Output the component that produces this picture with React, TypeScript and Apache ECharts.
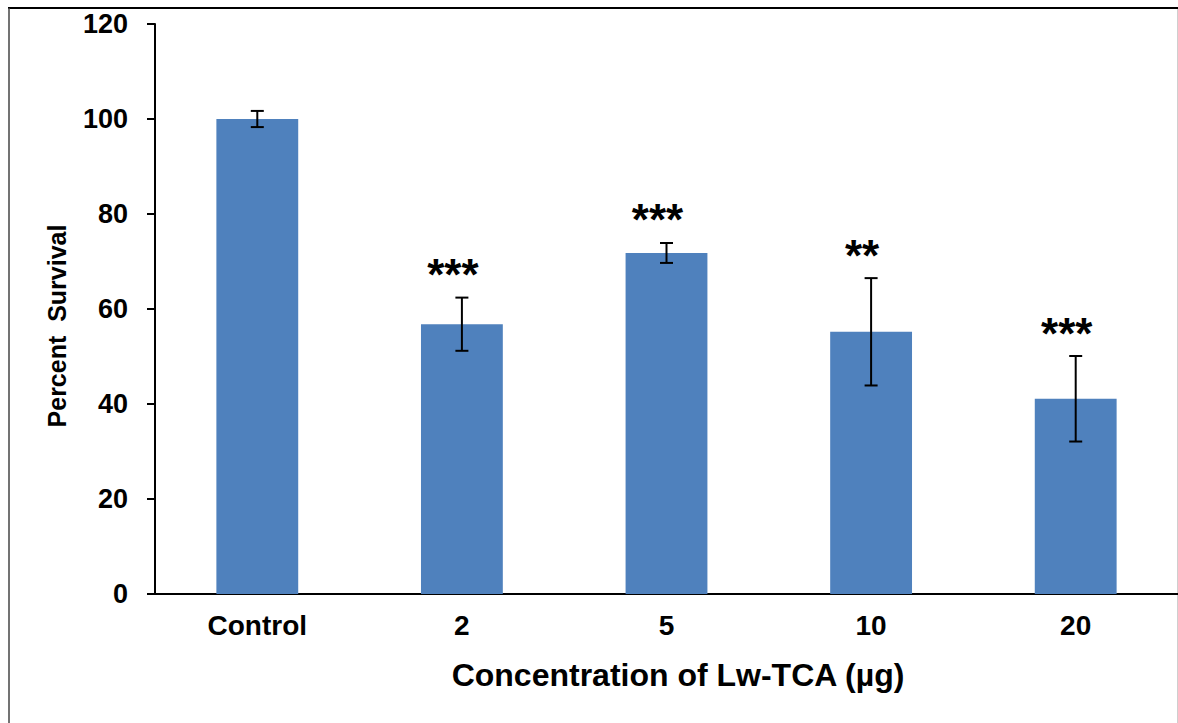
import React, { useEffect, useRef } from "react";
import * as echarts from "echarts";

const categories = ["Control", "2", "5", "10", "20"];
const survival = [100, 56.8, 71.8, 55.2, 41.1];
const errors = [1.7, 5.6, 2.1, 11.3, 9.0];
const significance = ["", "***", "***", "**", "***"];
const yTicks = [0, 20, 40, 60, 80, 100, 120];

const FONT = "Liberation Sans, Arial, Helvetica, sans-serif";

export default function App() {
  const ref = useRef<HTMLDivElement>(null);

  useEffect(() => {
    if (!ref.current) return;
    const chart = echarts.init(ref.current, undefined, { renderer: "svg" });

    const errData = categories.map((_, i) => [i, survival[i], errors[i]]);

    chart.setOption({
      animation: false,
      backgroundColor: "#ffffff",
      grid: { left: 155, right: 0, top: 24, bottom: 129, containLabel: false },
      xAxis: {
        type: "category",
        data: categories,
        axisLine: { lineStyle: { color: "#000", width: 2 } },
        axisTick: { show: false },
        axisLabel: {
          color: "#000",
          fontSize: 28,
          fontWeight: "bold",
          fontFamily: FONT,
          margin: 17,
        },
      },
      yAxis: {
        type: "value",
        min: yTicks[0],
        max: yTicks[yTicks.length - 1],
        interval: 20,
        axisLine: { show: true, lineStyle: { color: "#000", width: 2 } },
        axisTick: { show: true, inside: false, length: 8, lineStyle: { color: "#000", width: 2 } },
        splitLine: { show: false },
        axisLabel: {
          color: "#000",
          fontSize: 27,
          fontWeight: "bold",
          fontFamily: FONT,
          margin: 27,
        },
      },
      graphic: [
        {
          type: "text",
          x: 678,
          y: 675,
          style: {
            text: "Concentration of Lw-TCA (µg)",
            fill: "#000",
            font: `bold 32px ${FONT}`,
            align: "center",
            verticalAlign: "middle",
          },
        },
        {
          type: "text",
          x: 57,
          y: 326,
          rotation: Math.PI / 2,
          style: {
            text: "Percent  Survival",
            fill: "#000",
            font: `bold 25px ${FONT}`,
            align: "center",
            verticalAlign: "middle",
          },
        },
        { type: "line", shape: { x1: 8, y1: 8, x2: 1178, y2: 8 }, style: { stroke: "#000", lineWidth: 2 } },
        { type: "line", shape: { x1: 9, y1: 8, x2: 9, y2: 723 }, style: { stroke: "#444", lineWidth: 1.5 } },
        { type: "line", shape: { x1: 1177.5, y1: 9, x2: 1177.5, y2: 723 }, style: { stroke: "#cfcfcf", lineWidth: 1 } },
      ],
      series: [
        {
          type: "bar",
          data: survival,
          barWidth: "40%",
          itemStyle: { color: "#4F81BD" },
        },
        {
          type: "custom",
          data: errData,
          z: 10,
          renderItem: (params: any, api: any) => {
            const i = api.value(0);
            const mean = api.value(1);
            const err = api.value(2);
            const stars = significance[params.dataIndex];
            const top = api.coord([i, mean + err]);
            const bottom = api.coord([i, mean - err]);
            const x = top[0];
            const cap = 6.5;
            const style = { stroke: "#000", lineWidth: 2 };
            const children: any[] = [
              { type: "line", shape: { x1: x, y1: top[1], x2: x, y2: bottom[1] }, style },
              { type: "line", shape: { x1: x - cap, y1: top[1], x2: x + cap, y2: top[1] }, style },
              { type: "line", shape: { x1: x - cap, y1: bottom[1], x2: x + cap, y2: bottom[1] }, style },
            ];
            if (stars) {
              children.push({
                type: "text",
                x: x - 9,
                y: top[1] - 23,
                style: {
                  text: stars,
                  fill: "#000",
                  font: `bold 44px ${FONT}`,
                  align: "center",
                  verticalAlign: "middle",
                },
              });
            }
            return { type: "group", children };
          },
        },
      ],
    });

    return () => chart.dispose();
  }, []);

  return (
    <div
      ref={ref}
      style={{ position: "fixed", left: 0, top: 0, width: 1178, height: 723 }}
    />
  );
}
